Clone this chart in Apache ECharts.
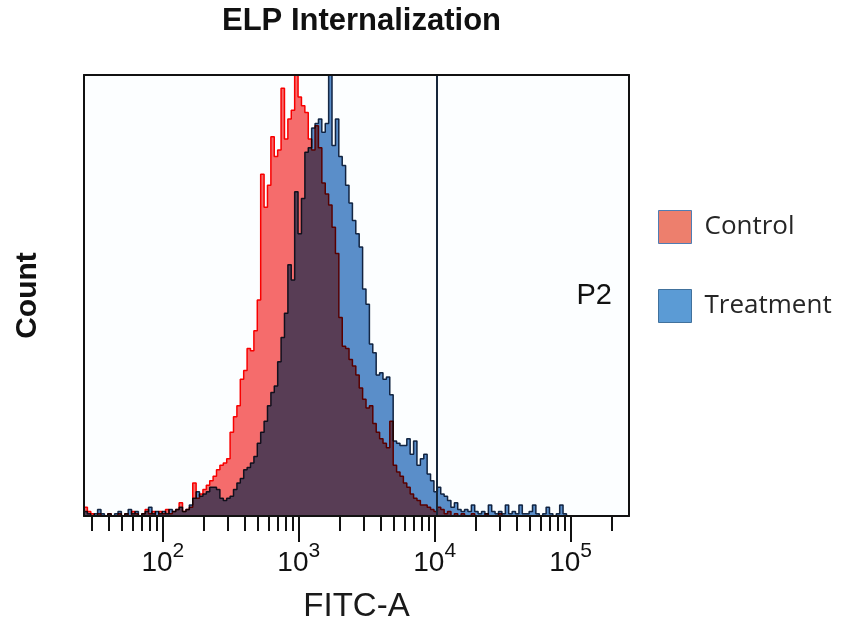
<!DOCTYPE html>
<html>
<head>
<meta charset="utf-8">
<title>ELP Internalization</title>
<script src="https://cdn.jsdelivr.net/npm/echarts@6/dist/echarts.min.js"></script>
<style>
  html, body { margin: 0; padding: 0; background: #ffffff; }
  #chart { width: 841px; height: 628px; }
</style>
</head>
<body>
<div id="chart"></div>
<script>
// Histogram channels: equal-width bins on a log10 FITC-A scale
const LOG_START = 1.42;
const LOG_BIN = 0.025;
const X_MIN = Math.pow(10, 1.42);
const X_MAX = Math.pow(10, 5.43);
const Y_MAX = 200;

// Event counts per channel
const controlCounts = [
  4, 2, 1, 0, 1, 0, 0, 1, 0, 0,
  1, 0, 1, 0, 2, 1, 0, 1, 3, 1,
  2, 0, 2, 1, 3, 1, 2, 3, 6, 2,
  3, 4, 15, 8, 10, 12, 14, 16, 18, 21,
  23, 24, 26, 38, 45, 50, 62, 66, 76, 75,
  84, 98, 155, 140, 150, 172, 163, 166, 194, 171,
  180, 184, 205, 190, 186, 183, 171, 166, 177, 167,
  151, 146, 141, 131, 119, 90, 77, 76, 71, 68,
  64, 58, 53, 49, 50, 42, 38, 35, 33, 31,
  43, 23, 20, 18, 15, 13, 10, 8, 7, 5,
  5, 4, 3, 2, 4, 3, 1, 2, 0, 1,
  0, 1, 0, 0, 1, 0, 0, 0, 1, 0,
  0, 0, 1, 0, 0, 0, 0, 0, 0, 0,
  0, 0, 0, 0, 0, 0, 0, 0, 0, 0,
  0, 0, 0, 0, 0, 0, 0, 0, 0, 0,
  0, 0, 0, 0, 0, 0, 0, 0, 0, 0
];
const treatmentCounts = [
  2, 1, 0, 1, 3, 1, 0, 1, 0, 1,
  2, 0, 1, 3, 1, 2, 0, 1, 2, 4,
  1, 2, 1, 2, 1, 3, 2, 3, 4, 2,
  3, 5, 8, 11, 9, 10, 11, 13, 13, 12,
  8, 7, 8, 9, 12, 15, 17, 21, 22, 24,
  27, 33, 38, 43, 50, 56, 59, 70, 81, 92,
  114, 107, 147, 128, 144, 165, 167, 176, 178, 180,
  174, 178, 225, 168, 180, 163, 159, 150, 142, 134,
  128, 122, 103, 96, 78, 74, 64, 65, 62, 63,
  55, 34, 33, 32, 32, 35, 28, 34, 23, 26,
  28, 19, 16, 11, 13, 10, 9, 7, 4, 6,
  3, 2, 3, 2, 5, 2, 1, 2, 1, 5,
  2, 1, 2, 1, 5, 1, 2, 1, 5, 1,
  1, 2, 5, 1, 0, 1, 4, 1, 0, 1,
  5, 1, 0, 0, 0, 0, 0, 0, 0, 0,
  0, 0, 0, 0, 0, 0, 0, 0, 0, 0
];

// Axis tick values
const decadeTicks = [100, 1000, 10000, 100000];
const minorTicks = [
  30, 40, 50, 60, 70, 80, 90,
  200, 300, 400, 500, 600, 700, 800, 900,
  2000, 3000, 4000, 5000, 6000, 7000, 8000, 9000,
  20000, 30000, 40000, 50000, 60000, 70000, 80000, 90000,
  200000
];

// P2 gate lower bound
const gateP2 = 10400;

// Turn counts into [channel left edge, count] pairs for a stepped outline
function toSteps(counts) {
  const pts = counts.map((c, i) => [Math.pow(10, LOG_START + i * LOG_BIN), c]);
  pts.push([Math.pow(10, LOG_START + counts.length * LOG_BIN), counts[counts.length - 1]]);
  return pts;
}

const chart = echarts.init(document.getElementById('chart'), null, { renderer: 'canvas' });

const frame = { color: '#111111', width: 2 };
const axisFont = '"Liberation Sans", Arial, sans-serif';
const tickStyle = { color: '#111111', width: 2 };

const baseLogAxis = {
  type: 'log',
  logBase: 10,
  min: X_MIN,
  max: X_MAX,
  splitLine: { show: false },
  z: 10
};

// Bottom axis that only draws a set of tick marks
function tickAxis(values, len) {
  return Object.assign({}, baseLogAxis, {
    position: 'bottom',
    axisLine: { show: false, onZero: false },
    axisTick: { show: true, customValues: values, length: len, lineStyle: tickStyle },
    axisLabel: { show: false }
  });
}

chart.setOption({
  animation: false,
  backgroundColor: '#ffffff',
  title: {
    text: 'ELP Internalization',
    left: 222,
    top: 6,
    padding: 0,
    textStyle: {
      fontFamily: '"Liberation Sans", Arial, sans-serif',
      fontWeight: 'bold',
      fontSize: 31,
      color: '#111111'
    }
  },
  legend: {
    orient: 'vertical',
    left: 653,
    top: 205,
    itemWidth: 33,
    itemHeight: 33,
    itemGap: 45,
    icon: 'rect',
    selectedMode: false,
    textStyle: {
      fontFamily: '"Open Sans", "Noto Sans", sans-serif',
      fontSize: 26,
      color: '#262626',
      padding: [0, 0, 0, 8],
      lineHeight: 33
    },
    data: [
      { name: 'Control', itemStyle: { color: '#ED7F6D', borderColor: '#4F7DB3', borderWidth: 1 } },
      { name: 'Treatment', itemStyle: { color: '#5B9BD5', borderColor: '#41719C', borderWidth: 1 } }
    ]
  },
  grid: {
    left: 84,
    right: 212,
    top: 75,
    bottom: 110,
    show: true,
    backgroundColor: '#fcfeff',
    borderWidth: 0
  },
  xAxis: [
    Object.assign({}, baseLogAxis, {
      position: 'bottom',
      axisLine: { show: true, onZero: false, lineStyle: frame },
      axisTick: { show: false },
      axisLabel: {
        show: true,
        customValues: decadeTicks,
        margin: 25,
        formatter: function (v) {
          return '{b|10}{e|' + Math.round(Math.log10(v)) + '}';
        },
        rich: {
          b: { fontFamily: axisFont, fontSize: 28, color: '#111111', lineHeight: 44 },
          e: { fontFamily: axisFont, fontSize: 21, color: '#111111', lineHeight: 20, verticalAlign: 'top' }
        }
      },
      name: 'FITC-A',
      nameLocation: 'middle',
      nameGap: 74,
      nameTextStyle: { fontFamily: '"Liberation Sans", Arial, sans-serif', fontSize: 33, color: '#1a1a1a' }
    }),
    tickAxis(minorTicks, 15),
    tickAxis(decadeTicks, 26),
    Object.assign({}, baseLogAxis, {
      position: 'top',
      axisLine: { show: true, onZero: false, lineStyle: frame },
      axisTick: { show: false },
      axisLabel: { show: false }
    })
  ],
  yAxis: [
    {
      type: 'value',
      min: 0,
      max: Y_MAX,
      position: 'left',
      axisLine: { show: true, onZero: false, lineStyle: frame },
      axisTick: { show: false },
      axisLabel: { show: false },
      splitLine: { show: false },
      name: 'Count',
      nameLocation: 'middle',
      nameGap: 41,
      nameRotate: 90,
      nameTextStyle: { fontFamily: '"Liberation Sans", Arial, sans-serif', fontWeight: 'bold', fontSize: 30, color: '#111111' },
      z: 10
    },
    {
      type: 'value',
      min: 0,
      max: Y_MAX,
      position: 'right',
      axisLine: { show: true, onZero: false, lineStyle: frame },
      axisTick: { show: false },
      axisLabel: { show: false },
      splitLine: { show: false },
      z: 10
    }
  ],
  series: [
    {
      name: 'Control',
      type: 'line',
      xAxisIndex: 0,
      yAxisIndex: 0,
      step: 'end',
      showSymbol: false,
      symbol: 'none',
      blendMode: 'multiply',
      itemStyle: { color: '#F86C6C' },
      lineStyle: { color: '#ff0000', width: 1.5 },
      areaStyle: { color: '#F86C6C', opacity: 1 },
      data: toSteps(controlCounts),
      markLine: {
        silent: true,
        symbol: ['none', 'none'],
        label: { show: false },
        lineStyle: { color: '#16263a', width: 2, type: 'solid' },
        data: [{ xAxis: gateP2 }]
      },
      markArea: {
        silent: true,
        itemStyle: { color: 'rgba(0,0,0,0)' },
        label: {
          show: true,
          position: 'insideRight',
          distance: 17,
          fontFamily: '"Liberation Sans", Arial, sans-serif',
          fontSize: 29,
          color: '#111111'
        },
        data: [[{ name: 'P2', xAxis: gateP2 }, { xAxis: X_MAX }]]
      }
    },
    {
      name: 'Treatment',
      type: 'line',
      xAxisIndex: 0,
      yAxisIndex: 0,
      step: 'end',
      showSymbol: false,
      symbol: 'none',
      blendMode: 'multiply',
      itemStyle: { color: '#5B8FC9' },
      lineStyle: { color: '#1b2f4a', width: 1.5 },
      areaStyle: { color: '#5B8FC9', opacity: 1 },
      data: toSteps(treatmentCounts)
    }
  ]
});
</script>
</body>
</html>
